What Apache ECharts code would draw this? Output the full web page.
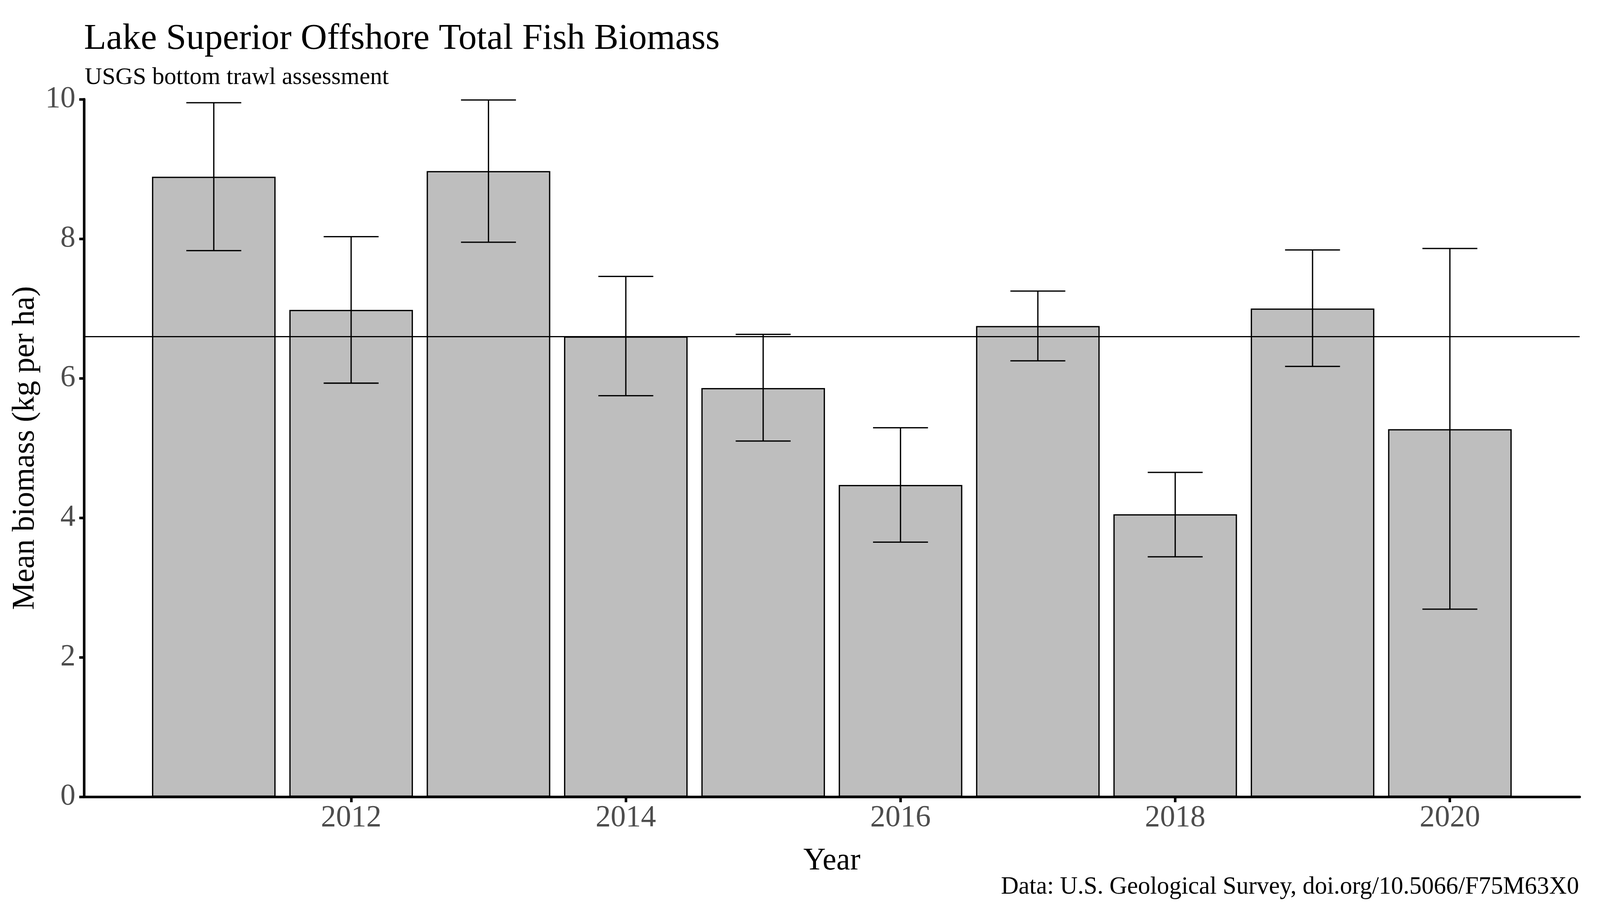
<!DOCTYPE html>
<html>
<head>
<meta charset="utf-8">
<script src="https://cdn.jsdelivr.net/npm/echarts@6/dist/echarts.min.js"></script>
<style>
  html, body { margin: 0; padding: 0; background: #ffffff; overflow: hidden; width: 100%; height: 100%; }
  #chart { width: 100vw; height: 100vh; }
</style>
</head>
<body>
<div id="chart"></div>
<script>
// survey years and mean biomass (kg per ha)
const years = [2011, 2012, 2013, 2014, 2015, 2016, 2017, 2018, 2019, 2020];
const biomass = [8.89, 6.98, 8.97, 6.60, 5.86, 4.47, 6.75, 4.05, 7.00, 5.27];
const errLow = [7.83, 5.93, 7.95, 5.75, 5.10, 3.65, 6.25, 3.44, 6.17, 2.69];
const errHigh = [9.95, 8.03, 9.99, 7.46, 6.63, 5.29, 7.25, 4.65, 7.84, 7.86];
const longTermMean = 6.6;
const yearTicks = [2012, 2014, 2016, 2018, 2020];

const FONT = 'Liberation Serif';

function drawChart() {
  let chartDom = document.querySelector('#chart');
  // layout was measured on a 4724 x 2362 picture, scale it to the real viewport
  let sx = chartDom.clientWidth / 4724;
  let sy = chartDom.clientHeight / 2362;
  let f = (sx + sy) / 2;
  let px = (v) => v * sx;
  let py = (v) => v * sy;
  let fs = (v) => v * f;

  let myChart = echarts.init(chartDom, null, { renderer: 'canvas' });

  let barData = years.map((y, i) => [y, biomass[i]]);
  let errData = years.map((y, i) => [y, errLow[i], errHigh[i]]);

  let option = {
    animation: false,
    backgroundColor: '#ffffff',
    title: [
      {
        text: 'Lake Superior Offshore Total Fish Biomass',
        left: px(248),
        top: py(129) - fs(80.5),
        padding: 0,
        textStyle: { fontFamily: FONT, fontSize: fs(100), fontWeight: 'normal', color: '#000000' }
      },
      {
        text: 'USGS bottom trawl assessment',
        left: px(250),
        top: py(217) - fs(53.1),
        padding: 0,
        textStyle: { fontFamily: FONT, fontSize: fs(66), fontWeight: 'normal', color: '#000000' }
      },
      {
        text: 'Data: U.S. Geological Survey, doi.org/10.5066/F75M63X0',
        right: px(62),
        top: py(2289) - fs(53.9),
        padding: 0,
        textStyle: { fontFamily: FONT, fontSize: fs(67), fontWeight: 'normal', color: '#000000' }
      }
    ],
    grid: {
      left: px(248),
      right: px(60),
      top: py(254),
      bottom: py(323),
      containLabel: false
    },
    xAxis: {
      type: 'value',
      min: 2010.055,
      max: 2020.945,
      name: 'Year',
      nameLocation: 'middle',
      nameGap: py(190) - fs(68.4),
      nameTextStyle: { fontFamily: FONT, fontSize: fs(85), color: '#000000' },
      axisLine: { show: true, onZero: false, lineStyle: { color: '#000000', width: fs(7) } },
      axisTick: { show: true, length: py(14), customValues: yearTicks, lineStyle: { color: '#000000', width: fs(7) } },
      axisLabel: {
        customValues: yearTicks,
        margin: py(79) - fs(66.8),
        fontFamily: FONT,
        fontSize: fs(83),
        color: '#4d4d4d',
        formatter: (v) => String(v)
      },
      splitLine: { show: false }
    },
    yAxis: {
      type: 'value',
      min: 0,
      max: 10,
      interval: 2,
      name: 'Mean biomass (kg per ha)',
      nameLocation: 'middle',
      nameGap: px(131) - fs(16.6),
      nameTextStyle: { fontFamily: FONT, fontSize: fs(85), color: '#000000' },
      axisLine: { show: true, lineStyle: { color: '#000000', width: fs(7) } },
      axisTick: { show: true, length: px(14), lineStyle: { color: '#000000', width: fs(7) } },
      axisLabel: { margin: px(25), fontFamily: FONT, fontSize: fs(83), color: '#4d4d4d' },
      splitLine: { show: false }
    },
    series: [
      {
        name: 'Biomass',
        type: 'bar',
        data: barData,
        barWidth: '90%',
        itemStyle: { color: '#bebebe', borderColor: '#000000', borderWidth: fs(3.5) },
        z: 2,
        markLine: {
          silent: true,
          symbol: 'none',
          label: { show: false },
          lineStyle: { color: '#000000', width: fs(3), type: 'solid' },
          data: [{ yAxis: longTermMean }],
          z: 5
        }
      },
      {
        name: 'Error',
        type: 'custom',
        z: 4,
        data: errData,
        renderItem: (params, api) => {
          let x = api.value(0);
          let lo = api.value(1);
          let hi = api.value(2);
          let top = api.coord([x, hi]);
          let bottom = api.coord([x, lo]);
          let capL = api.coord([x - 0.2, hi]);
          let capR = api.coord([x + 0.2, hi]);
          let capL2 = api.coord([x - 0.2, lo]);
          let capR2 = api.coord([x + 0.2, lo]);
          let style = { stroke: '#000000', lineWidth: fs(3.5) };
          return {
            type: 'group',
            children: [
              { type: 'line', shape: { x1: top[0], y1: top[1], x2: bottom[0], y2: bottom[1] }, style: style },
              { type: 'line', shape: { x1: capL[0], y1: capL[1], x2: capR[0], y2: capR[1] }, style: style },
              { type: 'line', shape: { x1: capL2[0], y1: capL2[1], x2: capR2[0], y2: capR2[1] }, style: style }
            ]
          };
        }
      }
    ]
  };

  myChart.setOption(option);
}

document.addEventListener('DOMContentLoaded', () => {
  drawChart();
});
</script>
</body>
</html>
